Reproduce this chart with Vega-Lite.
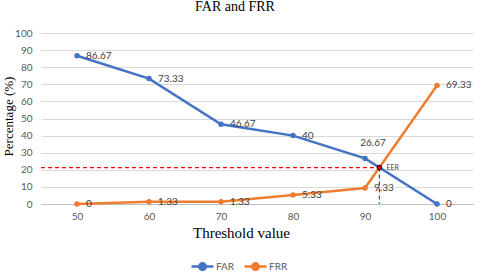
{
  "$schema": "https://vega.github.io/schema/vega-lite/v6.json",
  "width": 432,
  "height": 171,
  "autosize": {"type": "none"},
  "padding": {"left": 41, "top": 33, "right": 7, "bottom": 70},
  "background": "white",
  "title": {"text": "FAR and FRR", "font": "Liberation Serif", "fontSize": 14, "fontWeight": "normal", "color": "#000000", "anchor": "middle", "dx": -22, "offset": 14},
  "config": {
    "view": {"stroke": null},
    "axis": {"ticks": false, "labelFont": "Lato", "labelFontSize": 10, "labelColor": "#595959", "titleFont": "Liberation Serif", "titleFontWeight": "normal", "titleColor": "#000000"},
    "axisX": {"grid": false, "domain": true, "domainColor": "#BFBFBF", "labelPadding": 7, "titleFontSize": 15, "titlePadding": 4, "tickCount": 6},
    "axisY": {"grid": true, "gridColor": "#D9D9D9", "domain": false, "labelPadding": 9, "titleFontSize": 13, "tickCount": 10}
  },
  "datasets": {
    "rates": [
      {"t": 50, "series": "FAR", "value": 86.67},
      {"t": 60, "series": "FAR", "value": 73.33},
      {"t": 70, "series": "FAR", "value": 46.67},
      {"t": 80, "series": "FAR", "value": 40},
      {"t": 90, "series": "FAR", "value": 26.67},
      {"t": 100, "series": "FAR", "value": 0},
      {"t": 50, "series": "FRR", "value": 0},
      {"t": 60, "series": "FRR", "value": 1.33},
      {"t": 70, "series": "FRR", "value": 1.33},
      {"t": 80, "series": "FRR", "value": 5.33},
      {"t": 90, "series": "FRR", "value": 9.33},
      {"t": 100, "series": "FRR", "value": 69.33}
    ],
    "eer": [{"t": 92, "value": 21.33, "label": "EER", "t0": 45, "v0": 0}]
  },
  "encoding": {
    "x": {"field": "t", "type": "quantitative", "scale": {"domain": [45, 105], "nice": false},
      "axis": {"title": "Threshold value", "titleX": 200}},
    "y": {"field": "value", "type": "quantitative", "scale": {"domain": [0, 100], "nice": false},
      "axis": {"title": "Percentage (%)", "titleX": -26, "titleY": 83}}
  },
  "layer": [
    {
      "data": {"name": "eer"},
      "mark": {"type": "rule", "color": "#FF0000", "strokeWidth": 1.2, "strokeDash": [4, 3]},
      "encoding": {
        "x": {"field": "t0", "type": "quantitative"},
        "x2": {"field": "t"}
      }
    },
    {
      "data": {"name": "eer"},
      "mark": {"type": "rule", "color": "#FF0000", "strokeWidth": 1.2, "strokeDash": [4, 3]},
      "encoding": {
        "y2": {"field": "v0"}
      }
    },
    {
      "data": {"name": "rates"},
      "mark": {"type": "line", "strokeWidth": 2.5},
      "encoding": {
        "color": {"field": "series", "type": "nominal",
          "scale": {"domain": ["FAR", "FRR"], "range": ["#4472C4", "#ED7D31"]},
          "legend": {"title": null, "orient": "none", "legendX": 149, "legendY": 221, "direction": "horizontal",
            "symbolType": "M-1,0H1M-0.3,0A0.3,0.3 0 1,1 0.3,0A0.3,0.3 0 1,1 -0.3,0Z", "symbolSize": 484, "symbolStrokeWidth": 2.5,
            "labelFont": "Lato", "labelFontSize": 10, "labelColor": "#595959", "columnPadding": 4, "labelOffset": 1}}
      }
    },
    {
      "data": {"name": "rates"},
      "mark": {"type": "circle", "size": 30, "opacity": 1},
      "encoding": {
        "color": {"field": "series", "type": "nominal", "legend": null}
      }
    },
    {
      "data": {"name": "rates"},
      "transform": [{"filter": "!(datum.series == 'FAR' && datum.t == 90)"}],
      "mark": {"type": "text", "align": "left", "baseline": "middle", "dx": 9, "font": "Lato", "fontSize": 10, "color": "#404040"},
      "encoding": {
        "text": {"field": "value", "type": "nominal"}
      }
    },
    {
      "data": {"name": "rates"},
      "transform": [{"filter": "datum.series == 'FAR' && datum.t == 90"}],
      "mark": {"type": "text", "align": "center", "baseline": "middle", "dx": 8, "dy": -15, "font": "Lato", "fontSize": 10, "color": "#404040"},
      "encoding": {
        "text": {"field": "value", "type": "nominal"}
      }
    },
    {
      "data": {"name": "eer"},
      "mark": {"type": "point", "shape": "circle", "filled": true, "fill": "#E00000", "stroke": "#000000", "strokeWidth": 1, "size": 22, "opacity": 1},
      "encoding": {}
    },
    {
      "data": {"name": "eer"},
      "mark": {"type": "text", "align": "left", "baseline": "middle", "dx": 7, "font": "Lato", "fontSize": 7, "color": "#404040"},
      "encoding": {
        "text": {"field": "label"}
      }
    }
  ]
}
